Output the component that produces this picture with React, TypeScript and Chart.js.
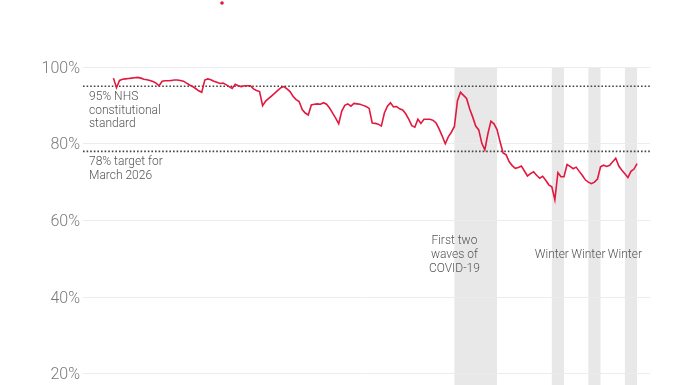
import React, { useEffect, useRef } from "react";
import { Chart, registerables } from "chart.js";

Chart.register(...registerables);

// Monthly share of A&E patients seen within 4 hours (%), Nov 2010 – Mar 2025
const START_YEAR = 2010;
const START_MONTH = 11;

const performance = [
  97.1, 94.6, 96.5, 96.8, 96.9, 97.0, 97.1, 97.2, 97.3, 97.1,
  96.8, 96.7, 96.5, 96.2, 95.8, 95.1, 96.3, 96.4, 96.4, 96.5,
  96.6, 96.6, 96.5, 96.3, 95.8, 95.3, 94.9, 94.4, 93.8, 93.4,
  96.6, 96.9, 96.7, 96.3, 96.0, 95.7, 95.8, 95.4, 94.9, 94.4,
  95.5, 95.1, 94.9, 95.1, 95.1, 95.1, 94.3, 93.9, 93.6, 89.9,
  91.1, 91.8, 92.5, 93.2, 93.9, 94.6, 94.9, 94.3, 93.6, 92.4,
  91.5, 91.0, 88.9, 88.0, 87.5, 90.1, 90.3, 90.4, 90.3, 90.7,
  90.3, 89.3, 88.0, 86.7, 85.2, 88.5, 90.0, 90.4, 89.8, 90.5,
  90.4, 90.3, 90.0, 89.7, 89.2, 85.4, 85.3, 85.1, 84.6, 88.0,
  89.8, 90.7, 89.6, 89.7, 89.1, 88.8, 87.8, 86.4, 84.7, 84.3,
  86.4, 85.3, 86.4, 86.4, 86.4, 86.1, 85.4, 83.8, 82.0, 80.0,
  81.8, 83.0, 84.5, 91.2, 93.4, 92.6, 91.8, 89.1, 87.0, 84.6,
  83.6, 80.1, 78.4, 82.6, 85.9, 85.2, 83.7, 80.5, 77.6, 77.1,
  75.3, 74.3, 73.6, 73.8, 74.2, 72.9, 71.6, 72.2, 72.7, 71.8,
  71.0, 71.5, 70.5, 69.3, 68.8, 65.4, 72.5, 71.4, 71.4, 74.6,
  74.1, 73.5, 73.9, 72.8, 71.8, 70.6, 70.0, 69.6, 70.0, 70.8,
  74.0, 74.4, 74.1, 74.4, 75.3, 76.2, 74.2, 73.1, 72.2, 71.2,
  72.8, 73.4, 74.8,
];

const months = performance.map((_, i) => {
  const m = START_MONTH - 1 + i;
  return `${START_YEAR + Math.floor(m / 12)}-${String((m % 12) + 1).padStart(2, "0")}`;
});

const yTicks = [20, 40, 60, 80, 100];

const targetValues = [95, 78];
const targetLabels = [
  ["95% NHS", "constitutional", "standard"],
  ["78% target for", "March 2026"],
];

const bandStarts = ["2020-03", "2022-11", "2023-11", "2024-11"];
const bandEnds = ["2021-05", "2023-03", "2024-03", "2025-03"];
const bandLabels = [
  ["First two", "waves of", "COVID-19"],
  ["Winter"],
  ["Winter"],
  ["Winter"],
];

const X_MIN = -10;
const X_MAX = 176.25;
const Y_MIN = 17.13;
const Y_MAX = 100;

const RED = "#e2183f";

const overlayPlugin = {
  id: "overlay",
  beforeDraw(chart: any) {
    const { ctx, chartArea } = chart;
    const x = chart.scales.x;
    ctx.save();
    ctx.fillStyle = "#e8e8e8";
    bandStarts.forEach((s, i) => {
      const x0 = x.getPixelForValue(months.indexOf(s));
      const x1 = x.getPixelForValue(months.indexOf(bandEnds[i]));
      ctx.fillRect(x0, chartArea.top, x1 - x0, chartArea.bottom - chartArea.top);
    });
    ctx.restore();
  },
  afterDraw(chart: any) {
    const { ctx, chartArea } = chart;
    const x = chart.scales.x;
    const y = chart.scales.y;
    ctx.save();
    ctx.font = "300 12px Roboto";
    ctx.fillStyle = "#555";
    ctx.textBaseline = "middle";
    ctx.textAlign = "left";
    targetValues.forEach((v, i) => {
      const y0 = y.getPixelForValue(v) + 11;
      targetLabels[i].forEach((line, j) => {
        ctx.fillText(line, chartArea.left + 6, y0 + j * 13.5);
      });
    });
    ctx.textAlign = "center";
    const yc = y.getPixelForValue(50.9);
    bandStarts.forEach((s, i) => {
      const cx = x.getPixelForValue(months.indexOf(s));
      const lines = bandLabels[i];
      const top = yc - ((lines.length - 1) * 14) / 2;
      lines.forEach((line, j) => ctx.fillText(line, cx, top + j * 14));
    });
    // small red marker at the top (remnant of legend key)
    ctx.fillStyle = RED;
    ctx.beginPath();
    ctx.arc(222, 3, 1.8, 0, Math.PI * 2);
    ctx.fill();
    ctx.restore();
  },
};

export default function App() {
  const ref = useRef<HTMLCanvasElement>(null);

  useEffect(() => {
    document.body.style.margin = "0";
    const canvas = ref.current!;
    const chart = new Chart(canvas, {
      type: "line",
      data: {
        datasets: [
          {
            label: "A&E 4-hour performance",
            data: performance.map((v, i) => ({ x: i, y: v })),
            borderColor: RED,
            borderWidth: 1.6,
            pointRadius: 0,
            tension: 0,
            fill: false,
          },
          ...targetValues.map((t) => ({
            label: `${t}%`,
            data: [
              { x: X_MIN, y: t },
              { x: X_MAX, y: t },
            ],
            borderColor: "#444",
            borderWidth: 1.6,
            borderDash: [1.6, 2],
            pointRadius: 0,
            fill: false,
          })),
        ],
      },
      options: {
        responsive: false,
        animation: false,
        devicePixelRatio: 1,
        layout: { padding: { top: 67, right: 46, bottom: 0, left: 0 } },
        plugins: {
          legend: { display: false },
          tooltip: { enabled: false },
        },
        scales: {
          x: {
            type: "linear",
            display: false,
            min: X_MIN,
            max: X_MAX,
          },
          y: {
            min: Y_MIN,
            max: Y_MAX,
            afterBuildTicks(scale: any) {
              scale.ticks = yTicks.map((v) => ({ value: v }));
            },
            afterFit(scale: any) {
              scale.width = 83;
              scale.paddingTop = 0;
              scale.paddingBottom = 0;
            },
            border: { display: false },
            grid: { color: "#ececec", lineWidth: 1, drawTicks: false },
            ticks: {
              padding: 3,
              labelOffset: 1.5,
              color: "#7a7a7a",
              font: { family: "Roboto", size: 16, weight: "300" },
              callback: (v: any) => `${v}%`,
            },
          },
        },
      },
      plugins: [overlayPlugin],
    });
    return () => chart.destroy();
  }, []);

  return <canvas ref={ref} width={696} height={385} style={{ display: "block" }} />;
}
